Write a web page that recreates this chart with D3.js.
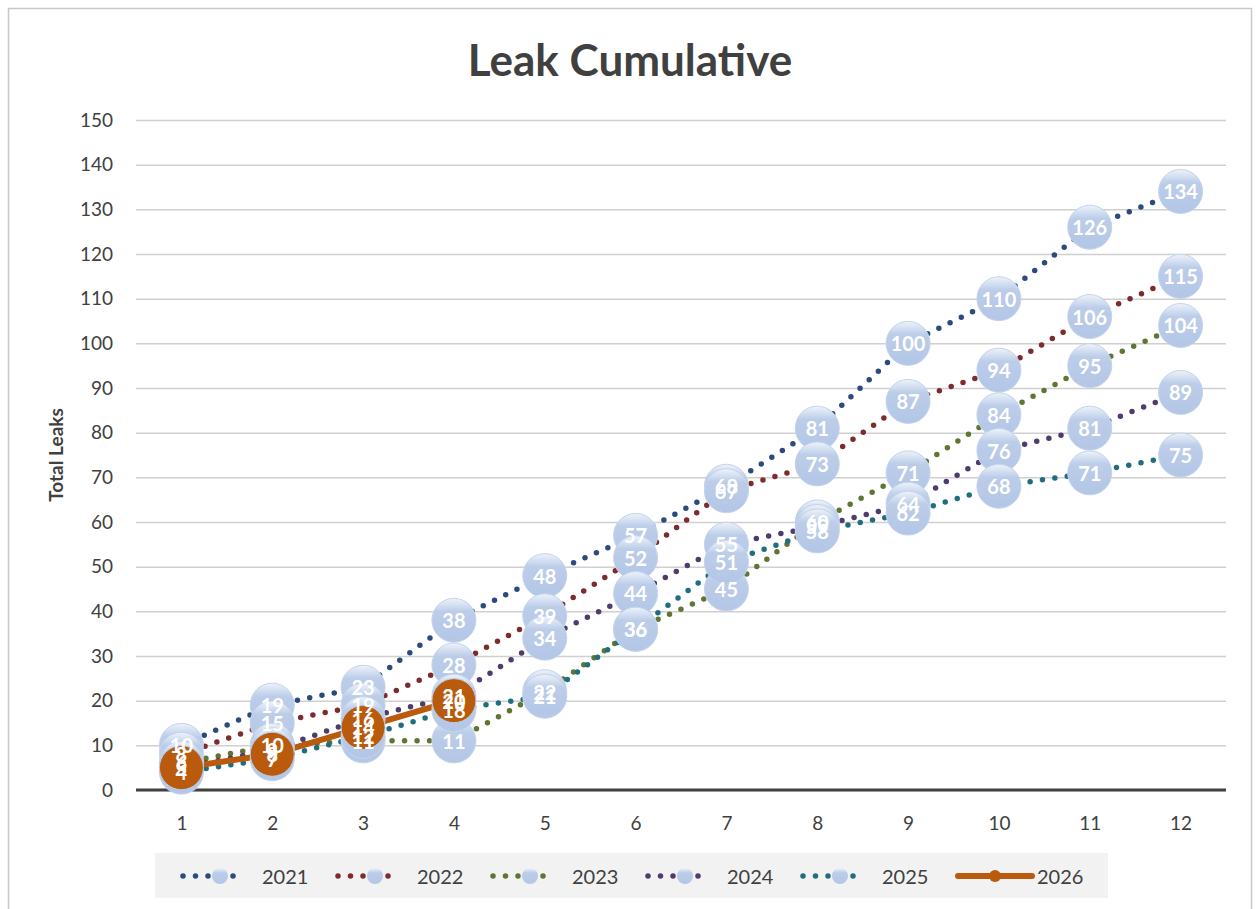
<!DOCTYPE html>
<html>
<head>
<meta charset="utf-8">
<script src="https://cdn.jsdelivr.net/npm/d3@7"></script>
<style>
  body { margin: 0; background: white; }
  text { font-family: Lato, "Open Sans", sans-serif; fill: #404040; }
</style>
</head>
<body>
<svg width="1256" height="909"></svg>
<script>
// values
const months = [1, 2, 3, 4, 5, 6, 7, 8, 9, 10, 11, 12]
const yTicks = [0, 10, 20, 30, 40, 50, 60, 70, 80, 90, 100, 110, 120, 130, 140, 150]
const years = ["2021", "2022", "2023", "2024", "2025", "2026"]
const leaks2021 = [10, 19, 23, 38, 48, 57, 68, 81, 100, 110, 126, 134]
const leaks2022 = [8, 15, 19, 28, 39, 52, 67, 73, 87, 94, 106, 115]
const leaks2023 = [6, 10, 11, 11, 22, 36, 45, 60, 71, 84, 95, 104]
const leaks2024 = [5, 9, 16, 21, 34, 44, 55, 59, 64, 76, 81, 89]
const leaks2025 = [4, 7, 12, 18, 21, 36, 51, 58, 62, 68, 71, 75]
const leaks2026 = [5, 8, 14, 20]

const colors = ["#2b4b7c", "#7d2b2b", "#5f7532", "#4f3b6c", "#1f6e80", "#b95a0c"]

var series = [leaks2021, leaks2022, leaks2023, leaks2024, leaks2025, leaks2026]
  .map((vals, i) => ({
    year: years[i],
    color: colors[i],
    current: i == 5,
    points: vals.map((v, j) => ({ month: months[j], value: v }))
  }))

var
  svg = d3.select("svg"),
  plot = { left: 136, right: 1226, top: 120, bottom: 790 }

var defs = svg.append("defs")
var grad = defs.append("linearGradient").attr("id", "bubble")
  .attr("x1", 0).attr("y1", 0).attr("x2", 0).attr("y2", 1)
grad.append("stop").attr("offset", "0%").attr("stop-color", "#eef3fa")
grad.append("stop").attr("offset", "30%").attr("stop-color", "#bccde9")
grad.append("stop").attr("offset", "100%").attr("stop-color", "#b3c6e6")

// chart frame
svg.append("rect")
  .attr("x", 8.5).attr("y", 8.5)
  .attr("width", 1243).attr("height", 920)
  .attr("fill", "white")
  .attr("stroke", "#c8c8c8")
  .attr("stroke-width", 1.5)

var
  x = d3.scalePoint().domain(months).range([plot.left, plot.right]).padding(0.5),
  y = d3.scaleLinear().domain([0, 150]).range([plot.bottom, plot.top])

// gridlines + y labels
var yAxisG = svg.append("g")
  .attr("transform", `translate(${plot.left},0)`)
  .call(d3.axisLeft(y).tickValues(yTicks)
    .tickSize(-(plot.right - plot.left)).tickPadding(23))
yAxisG.select(".domain").remove()
yAxisG.selectAll(".tick line").attr("stroke", "#d0d0d0").attr("stroke-width", 1.5)
yAxisG.selectAll(".tick text")
  .style("font-size", "19px")
  .style("font-family", "Lato, sans-serif")
  .attr("fill", "#404040")

// x axis
var xAxisG = svg.append("g")
  .attr("transform", `translate(0,${plot.bottom})`)
  .call(d3.axisBottom(x).tickSize(0).tickPadding(27))
xAxisG.select(".domain").remove()
xAxisG.selectAll(".tick text")
  .style("font-size", "19px")
  .style("font-family", "Lato, sans-serif")
  .attr("fill", "#404040")

svg.append("line")
  .attr("x1", plot.left).attr("x2", plot.right)
  .attr("y1", y(0)).attr("y2", y(0))
  .attr("stroke", "#404040")
  .attr("stroke-width", 3)

// title and axis label
svg.append("text")
  .attr("x", 630).attr("y", 76)
  .attr("text-anchor", "middle")
  .style("font-size", "44px")
  .style("font-weight", "bold")
  .text("Leak Cumulative")

svg.append("text")
  .attr("transform", `translate(63,455) rotate(-90)`)
  .attr("text-anchor", "middle")
  .style("font-size", "19px")
  .style("font-weight", "bold")
  .text("Total Leaks")

var line = d3.line()
  .x(d => x(d.month))
  .y(d => y(d.value))

// lines
svg.append("g").selectAll("path")
  .data(series)
  .join("path")
  .attr("d", s => line(s.points))
  .attr("fill", "none")
  .attr("stroke", s => s.color)
  .attr("stroke-width", s => s.current ? 6 : 5.5)
  .attr("stroke-linecap", "round")
  .attr("stroke-dasharray", s => s.current ? null : "0 12.5")

// markers
var markers = svg.append("g")
series.forEach(s => {
  markers.selectAll(null)
    .data(s.points)
    .join("circle")
    .attr("cx", d => x(d.month))
    .attr("cy", d => y(d.value))
    .attr("r", 22)
    .attr("fill", s.current ? s.color : "url(#bubble)")
    .attr("stroke", s.current ? "#b8cbe8" : "#c4d4ec")
    .attr("stroke-width", 1)
})

// data labels on top
var labels = svg.append("g")
series.forEach(s => {
  labels.selectAll(null)
    .data(s.points)
    .join("text")
    .attr("x", d => x(d.month))
    .attr("y", d => y(d.value))
    .attr("text-anchor", "middle")
    .attr("dominant-baseline", "central")
    .style("font-size", "20px")
    .style("font-weight", "bold")
    .style("fill", "white")
    .text(d => d.value)
})

// legend
svg.append("rect")
  .attr("x", 155).attr("y", 853)
  .attr("width", 953).attr("height", 45)
  .attr("fill", "#f2f2f2")

var legendX = d3.scalePoint().domain(years).range([183, 958])

var legend = svg.append("g").selectAll("g")
  .data(series)
  .join("g")
  .attr("transform", s => `translate(${legendX(s.year)},876)`)

legend.append("line")
  .attr("x1", 0).attr("x2", s => s.current ? 74 : 62)
  .attr("stroke", s => s.color)
  .attr("stroke-width", s => s.current ? 6 : 5.5)
  .attr("stroke-linecap", "round")
  .attr("stroke-dasharray", s => s.current ? null : "0 12.5")

legend.append("circle")
  .attr("cx", 37)
  .attr("r", s => s.current ? 6 : 8)
  .attr("fill", s => s.current ? s.color : "url(#bubble)")

legend.append("text")
  .attr("x", 79)
  .attr("dominant-baseline", "central")
  .style("font-size", "20px")
  .text(s => s.year)
</script>
</body>
</html>
